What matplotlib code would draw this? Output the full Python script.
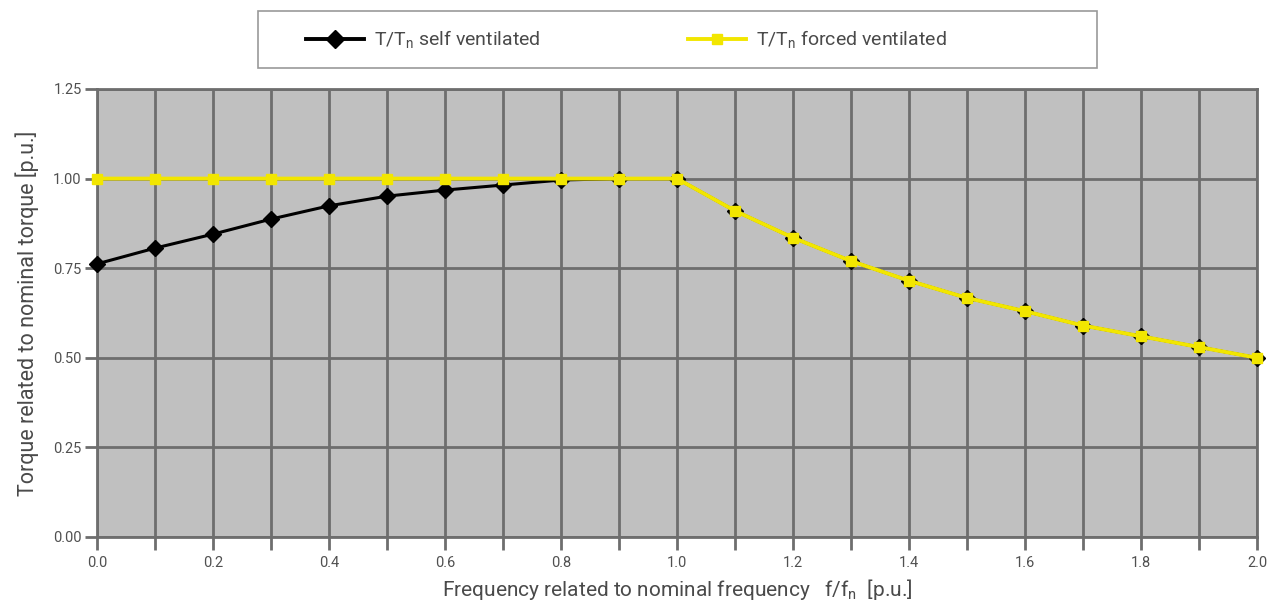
import matplotlib
matplotlib.use("Agg")
import matplotlib.pyplot as plt
from matplotlib.lines import Line2D
from matplotlib.patches import Rectangle

freq = [0.0, 0.1, 0.2, 0.3, 0.4, 0.5, 0.6, 0.7, 0.8, 0.9, 1.0,
        1.1, 1.2, 1.3, 1.4, 1.5, 1.6, 1.7, 1.8, 1.9, 2.0]
self_vent = [0.762, 0.806, 0.845, 0.887, 0.924, 0.951, 0.968, 0.982, 0.996, 1.0, 1.0,
             0.91, 0.835, 0.77, 0.715, 0.667, 0.63, 0.59, 0.56, 0.53, 0.5]
forced_vent = [1.0, 1.0, 1.0, 1.0, 1.0, 1.0, 1.0, 1.0, 1.0, 1.0, 1.0,
               0.91, 0.835, 0.77, 0.715, 0.667, 0.63, 0.59, 0.56, 0.53, 0.5]
x_ticks = [0.0, 0.1, 0.2, 0.3, 0.4, 0.5, 0.6, 0.7, 0.8, 0.9, 1.0,
           1.1, 1.2, 1.3, 1.4, 1.5, 1.6, 1.7, 1.8, 1.9, 2.0]
x_labels = ["0.0", "", "0.2", "", "0.4", "", "0.6", "", "0.8", "", "1.0",
            "", "1.2", "", "1.4", "", "1.6", "", "1.8", "", "2.0"]
y_ticks = [0.0, 0.25, 0.5, 0.75, 1.0, 1.25]
y_labels = ["0.00", "0.25", "0.50", "0.75", "1.00", "1.25"]
legend_labels = ["T/T$_\\mathregular{n}$ self ventilated", "T/T$_\\mathregular{n}$ forced ventilated"]

plt.rcParams['font.family'] = ['Roboto', 'DejaVu Sans']
plt.rcParams['mathtext.fontset'] = 'custom'
plt.rcParams['mathtext.rm'] = 'Roboto'

GRID = '#6e6e6e'
YEL = '#f2e600'
TXT = '#4a4a4a'

fig = plt.figure(figsize=(12.71, 6.01), dpi=100)
ax = fig.add_axes([97/1271, (601-537)/601, (1257-97)/1271, (537-89)/601])
ax.set_facecolor('#c0c0c0')
ax.set_xlim(0, 2.0)
ax.set_ylim(0, 1.25)
ax.set_xticks(x_ticks)
ax.set_xticklabels(x_labels)
ax.set_yticks(y_ticks)
ax.set_yticklabels(y_labels)
ax.grid(True, color=GRID, linewidth=2)
ax.set_axisbelow(True)
for s in ax.spines.values():
    s.set_color(GRID)
    s.set_linewidth(2)
ax.tick_params(axis='both', colors=GRID, width=2, length=9, labelcolor='#505050', labelsize=10.5)
ax.tick_params(axis='x', pad=5)
ax.tick_params(axis='y', pad=2)

ax.plot(freq, self_vent, color='black', lw=2.2, marker='D', markersize=8.5, zorder=3, clip_on=False)
ax.plot(freq, forced_vent, color=YEL, lw=2.8, marker='s', markersize=7, zorder=4, clip_on=False)

ax.set_xlabel("Frequency related to nominal frequency   f/f$_\\mathregular{n}$  [p.u.]",
              fontsize=15, color=TXT, labelpad=5)
ax.set_ylabel("Torque related to nominal torque [p.u.]", fontsize=15.5, color=TXT, labelpad=10)

# Legend box
fig.patches.append(Rectangle((258/1271, (601-68)/601), (1097-258)/1271, 57/601,
                             transform=fig.transFigure, facecolor='white',
                             edgecolor='#999999', linewidth=1.2))
handles = [Line2D([], [], color='black', lw=2.8, marker='D', markersize=9),
           Line2D([], [], color=YEL, lw=2.8, marker='s', markersize=7)]
fig.legend(handles, legend_labels, loc='center left',
           bbox_to_anchor=(288/1271, (601-40)/601), ncol=2, frameon=False,
           fontsize=14, handlelength=3.0, handletextpad=0.5, columnspacing=7.6,
           labelcolor=TXT)

fig.savefig("out.png", dpi=100)
